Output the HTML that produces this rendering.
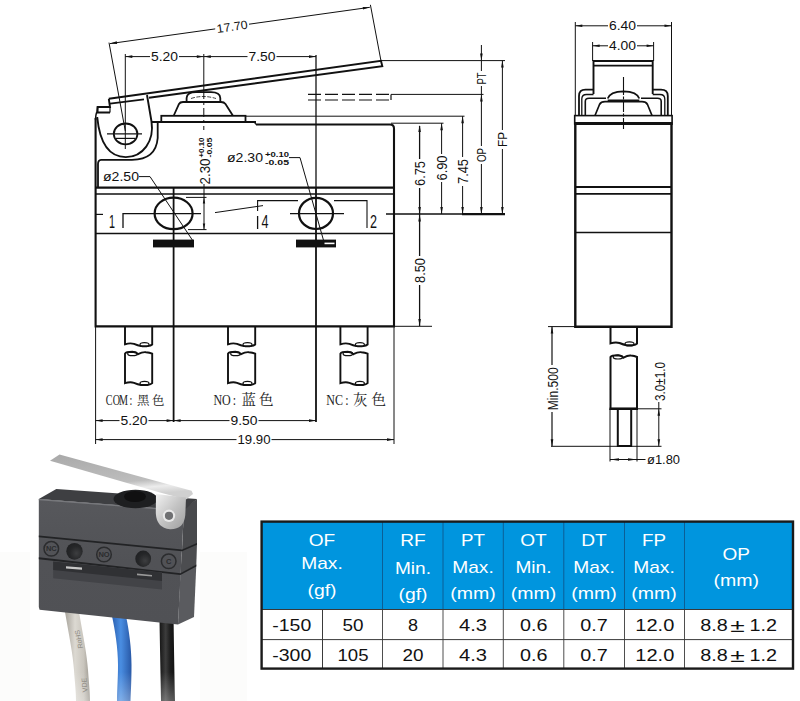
<!DOCTYPE html>
<html lang="zh"><head><meta charset="utf-8"><title>Micro switch dimensions</title>
<style>
html,body{margin:0;padding:0;background:#fff;}
body{width:800px;height:701px;overflow:hidden;font-family:"Liberation Sans","Noto Sans CJK SC",sans-serif;}
svg{display:block}
svg text{font-family:"Liberation Sans","Noto Sans CJK SC",sans-serif;fill:#111;stroke:none}
svg text.cn{font-family:"Liberation Serif","Noto Serif CJK SC",serif;fill:#222}
svg text.th{fill:#fff}
</style></head><body>
<svg width="800" height="701" viewBox="0 0 800 701">
<rect x="0" y="552" width="30" height="149" fill="#fcfcfb"/><rect x="200" y="552" width="47" height="149" fill="#fcfcfb"/>
<g stroke="#111" fill="none" stroke-linecap="butt">
<path d="M95.6,118 V326.4 H394 V128.5 Q394,124.5 390,124.5 H256" stroke-width="2.1"/>
<line x1="95.6" y1="187.6" x2="394" y2="187.6" stroke-width="2.3" />
<line x1="95.6" y1="194" x2="394" y2="194" stroke-width="1.7" />
<line x1="95.6" y1="233.5" x2="394" y2="233.5" stroke-width="1.7" />
<line x1="173.6" y1="187.6" x2="173.6" y2="422" stroke-width="1.8" />
<line x1="316" y1="55" x2="316" y2="187" stroke-width="1.3" />
<line x1="316" y1="187" x2="316" y2="422" stroke-width="1.8" />
<line x1="95.6" y1="326" x2="95.6" y2="444" stroke-width="1" />
<line x1="394" y1="326" x2="394" y2="444" stroke-width="1" />
<path d="M152,122 H256" stroke-width="2"/>
<rect x="161.3" y="115.8" width="84.2" height="6.2" stroke-width="1.8"/>
<path d="M246,121.6 H254 L256,124.5" stroke-width="1.3"/>
<path d="M173.8,115.5 L179,104 Q180,102 183,102 H221 Q224,102 225.5,104 L232.8,115.5" stroke-width="1.8"/>
<path d="M186.6,101.5 V98 Q187,92.2 196,92.2 H211 Q220,92.2 220.3,98 V101.5" stroke-width="1.8"/>
<path d="M191,98.5 Q203,94.5 216,98.5" stroke-width="0.8" stroke-dasharray="4 1.5"/>
<path d="M108.8,98.8 L381,60.9 L382.3,66.2 L149,97.8" stroke-width="1.9"/>
<path d="M110,103.6 L144,99.4" stroke-width="1.8"/>
<path d="M108.8,98.8 L110,107 H97.6 V112.5 H110" stroke-width="1.9"/>
<path d="M110,107 V112.5" stroke-width="1.2"/>
<path d="M97.6,107 L97,112 Q95.6,114 95.6,120" stroke-width="1.5"/>
<path d="M147,95 L151.5,121.5 C154.5,141 143,157 125.8,157.1 C108,157 99.5,141 97.2,117" stroke-width="1.9"/>
<path d="M157.7,123 V138 Q156,159.6 132,159.8 H101 Q98,160 98,164 V187" stroke-width="1.8"/>
<ellipse cx="125.6" cy="133.9" rx="11.8" ry="10.4" stroke-width="1.8"/>
<line x1="107" y1="133.9" x2="142" y2="133.9" stroke-width="1.2" />
<line x1="115.5" y1="138.4" x2="135.5" y2="138.4" stroke-width="1.2" />
<line x1="125.3" y1="54" x2="125.3" y2="149" stroke-width="1" />
<line x1="203.8" y1="54" x2="203.8" y2="90" stroke-width="1" />
<line x1="203.8" y1="90" x2="203.8" y2="130" stroke-width="1" stroke-dasharray="9 3 3 3"/>
<line x1="109" y1="42.6" x2="125.3" y2="131" stroke-width="1" />
<line x1="370.4" y1="4.8" x2="381" y2="61" stroke-width="1" />
<line x1="110" y1="43.6" x2="215.2" y2="28.9" stroke-width="1" />
<line x1="249.0" y1="24.2" x2="369.8" y2="7.3" stroke-width="1" />
<polygon points="110.00,43.60 116.75,41.34 117.11,43.92" fill="#111" stroke="none"/>
<polygon points="369.80,7.30 363.05,9.56 362.69,6.98" fill="#111" stroke="none"/>
<text x="232.1" y="30.8" font-size="12" text-anchor="middle" textLength="31" lengthAdjust="spacingAndGlyphs" transform="rotate(-7.95 232.1 26.5)" stroke="none">17.70</text>
<line x1="125.3" y1="56.6" x2="150.0" y2="56.6" stroke-width="1" />
<line x1="179.0" y1="56.6" x2="203.8" y2="56.6" stroke-width="1" />
<polygon points="125.30,56.60 132.30,55.30 132.30,57.90" fill="#111" stroke="none"/>
<polygon points="203.80,56.60 196.80,57.90 196.80,55.30" fill="#111" stroke="none"/>
<text x="164.5" y="60.9" font-size="12" text-anchor="middle" textLength="27" lengthAdjust="spacingAndGlyphs" >5.20</text>
<line x1="203.8" y1="56.6" x2="247.5" y2="56.6" stroke-width="1" />
<line x1="276.5" y1="56.6" x2="316" y2="56.6" stroke-width="1" />
<polygon points="203.80,56.60 210.80,55.30 210.80,57.90" fill="#111" stroke="none"/>
<polygon points="316.00,56.60 309.00,57.90 309.00,55.30" fill="#111" stroke="none"/>
<text x="262" y="60.9" font-size="12" text-anchor="middle" textLength="27" lengthAdjust="spacingAndGlyphs" >7.50</text>
<ellipse cx="173.6" cy="213.4" rx="19" ry="15.8" stroke-width="2.2"/>
<ellipse cx="316" cy="213.4" rx="17" ry="15.6" stroke-width="2.2"/>
<line x1="147" y1="213.6" x2="201" y2="213.6" stroke-width="1.3" />
<line x1="290" y1="213.6" x2="344" y2="213.6" stroke-width="1.3" />
<rect x="153" y="239.6" width="41" height="7.8" fill="#111" stroke="none"/>
<rect x="296" y="239.6" width="40" height="7.8" fill="#111" stroke="none"/>
<rect x="324.5" y="242.6" width="10" height="1.6" fill="#fff" stroke="none"/>
<path d="M139,176.6 H150 L193,241" stroke-width="1"/>
<path d="M289,157.6 H300 L324,242" stroke-width="1"/>
<line x1="95.6" y1="214.4" x2="103" y2="214.4" stroke-width="1.2" />
<path d="M123,228 V213.6 H147" stroke-width="1.3"/>
<path d="M257.6,211 V200.6 H298" stroke-width="1.1"/>
<line x1="257.6" y1="216" x2="257.6" y2="229" stroke-width="1.3" />
<line x1="215" y1="212.6" x2="263" y2="205.6" stroke-width="1" />
<path d="M334,200.6 H367 V228" stroke-width="1.1"/>
<line x1="204" y1="184" x2="204" y2="229.6" stroke-width="1" />
<line x1="186" y1="197.4" x2="206.5" y2="197.4" stroke-width="1" />
<line x1="188" y1="229.6" x2="206.5" y2="229.6" stroke-width="1" />
<polygon points="204.00,197.40 205.20,203.40 202.80,203.40" fill="#111" stroke="none"/>
<polygon points="204.00,229.60 202.80,223.60 205.20,223.60" fill="#111" stroke="none"/>
<line x1="386" y1="214" x2="505" y2="214" stroke-width="1.6" />
<line x1="462" y1="214.2" x2="505" y2="214.2" stroke-width="2.3" />
<line x1="246" y1="116.2" x2="464.5" y2="116.2" stroke-width="1" />
<line x1="391" y1="123.2" x2="443.5" y2="123.2" stroke-width="1" />
<line x1="381" y1="60.6" x2="505" y2="60.6" stroke-width="1" />
<line x1="391" y1="94.4" x2="483.5" y2="94.4" stroke-width="1" />
<line x1="308" y1="94.4" x2="391" y2="94.4" stroke-width="1.2" stroke-dasharray="13 4"/>
<line x1="308" y1="100" x2="391" y2="100" stroke-width="1.2" stroke-dasharray="13 4"/>
<line x1="391" y1="94.4" x2="391" y2="100" stroke-width="1.2" />
<line x1="419.6" y1="126" x2="419.6" y2="159" stroke-width="1.3" />
<line x1="419.6" y1="188" x2="419.6" y2="214" stroke-width="1.3" />
<polygon points="419.60,125.00 420.90,132.00 418.30,132.00" fill="#111" stroke="none"/>
<polygon points="419.60,214.00 418.30,207.00 420.90,207.00" fill="#111" stroke="none"/>
<line x1="419.6" y1="214" x2="419.6" y2="256" stroke-width="1.3" />
<line x1="419.6" y1="285" x2="419.6" y2="326" stroke-width="1.3" />
<polygon points="419.60,214.50 420.90,221.50 418.30,221.50" fill="#111" stroke="none"/>
<polygon points="419.60,326.00 418.30,319.00 420.90,319.00" fill="#111" stroke="none"/>
<line x1="394" y1="326.3" x2="432" y2="326.3" stroke-width="1" />
<line x1="441.6" y1="123.2" x2="441.6" y2="154" stroke-width="1" />
<line x1="441.6" y1="182" x2="441.6" y2="214" stroke-width="1" />
<polygon points="441.60,123.20 442.90,130.20 440.30,130.20" fill="#111" stroke="none"/>
<polygon points="441.60,214.00 440.30,207.00 442.90,207.00" fill="#111" stroke="none"/>
<line x1="462.6" y1="116.2" x2="462.6" y2="157" stroke-width="1" />
<line x1="462.6" y1="186" x2="462.6" y2="214" stroke-width="1" />
<polygon points="462.60,116.20 463.90,123.20 461.30,123.20" fill="#111" stroke="none"/>
<polygon points="462.60,214.00 461.30,207.00 463.90,207.00" fill="#111" stroke="none"/>
<line x1="481.4" y1="45" x2="481.4" y2="71" stroke-width="1" />
<line x1="481.4" y1="86" x2="481.4" y2="146" stroke-width="1" />
<line x1="481.4" y1="164" x2="481.4" y2="214" stroke-width="1" />
<polygon points="481.40,60.60 480.10,53.60 482.70,53.60" fill="#111" stroke="none"/>
<polygon points="481.40,94.40 482.70,101.40 480.10,101.40" fill="#111" stroke="none"/>
<polygon points="481.40,214.00 480.10,207.00 482.70,207.00" fill="#111" stroke="none"/>
<line x1="502.4" y1="60.6" x2="502.4" y2="130" stroke-width="1" />
<line x1="502.4" y1="149" x2="502.4" y2="214" stroke-width="1" />
<polygon points="502.40,60.60 503.70,67.60 501.10,67.60" fill="#111" stroke="none"/>
<polygon points="502.40,214.00 501.10,207.00 503.70,207.00" fill="#111" stroke="none"/>
<path d="M125,326 V344.3 q5,-1.6 9,-0.4 q4,1.6 7,2.2 h6.5 q3.5,-0.4 4.7,-1.6 V326" stroke-width="1.9"/>
<ellipse cx="144.5" cy="344.7" rx="4.5" ry="2" stroke-width="1.2"/>
<path d="M125,383 V353.6 q1,-1.8 7.5,-1.8 q4,0.4 5.5,2.4 q4.5,-2.4 8,-2 q3.5,0.2 6.2,1.4 V383.2 q-1.2,1.4 -4.7,1.8 h-6.5 q-3,-0.6 -7,-2.2 q-4,-1.2 -9,0.4 Z" stroke-width="1.9"/>
<ellipse cx="132.5" cy="353.7" rx="4.8" ry="2" stroke-width="1.2"/>
<ellipse cx="144.5" cy="383.3" rx="4.5" ry="2" stroke-width="1.2"/>
<path d="M228,326 V344.3 q5,-1.6 9,-0.4 q4,1.6 7,2.2 h6.5 q3.5,-0.4 4.7,-1.6 V326" stroke-width="1.9"/>
<ellipse cx="247.5" cy="344.7" rx="4.5" ry="2" stroke-width="1.2"/>
<path d="M228,383 V353.6 q1,-1.8 7.5,-1.8 q4,0.4 5.5,2.4 q4.5,-2.4 8,-2 q3.5,0.2 6.2,1.4 V383.2 q-1.2,1.4 -4.7,1.8 h-6.5 q-3,-0.6 -7,-2.2 q-4,-1.2 -9,0.4 Z" stroke-width="1.9"/>
<ellipse cx="235.5" cy="353.7" rx="4.8" ry="2" stroke-width="1.2"/>
<ellipse cx="247.5" cy="383.3" rx="4.5" ry="2" stroke-width="1.2"/>
<path d="M340.4,326 V344.3 q5,-1.6 9,-0.4 q4,1.6 7,2.2 h6.5 q3.5,-0.4 4.7,-1.6 V326" stroke-width="1.9"/>
<ellipse cx="359.9" cy="344.7" rx="4.5" ry="2" stroke-width="1.2"/>
<path d="M340.4,383 V353.6 q1,-1.8 7.5,-1.8 q4,0.4 5.5,2.4 q4.5,-2.4 8,-2 q3.5,0.2 6.2,1.4 V383.2 q-1.2,1.4 -4.7,1.8 h-6.5 q-3,-0.6 -7,-2.2 q-4,-1.2 -9,0.4 Z" stroke-width="1.9"/>
<ellipse cx="347.9" cy="353.7" rx="4.8" ry="2" stroke-width="1.2"/>
<ellipse cx="359.9" cy="383.3" rx="4.5" ry="2" stroke-width="1.2"/>
<line x1="95.6" y1="420.6" x2="119.5" y2="420.6" stroke-width="1" />
<line x1="148.5" y1="420.6" x2="173.6" y2="420.6" stroke-width="1" />
<polygon points="95.60,420.60 102.60,419.30 102.60,421.90" fill="#111" stroke="none"/>
<polygon points="173.60,420.60 166.60,421.90 166.60,419.30" fill="#111" stroke="none"/>
<text x="134" y="424.90000000000003" font-size="12" text-anchor="middle" textLength="27" lengthAdjust="spacingAndGlyphs" >5.20</text>
<line x1="173.6" y1="420.6" x2="229.5" y2="420.6" stroke-width="1" />
<line x1="258.5" y1="420.6" x2="316" y2="420.6" stroke-width="1" />
<polygon points="173.60,420.60 180.60,419.30 180.60,421.90" fill="#111" stroke="none"/>
<polygon points="316.00,420.60 309.00,421.90 309.00,419.30" fill="#111" stroke="none"/>
<text x="244" y="424.90000000000003" font-size="12" text-anchor="middle" textLength="27" lengthAdjust="spacingAndGlyphs" >9.50</text>
<line x1="95.6" y1="439.6" x2="236.5" y2="439.6" stroke-width="1" />
<line x1="271.5" y1="439.6" x2="394" y2="439.6" stroke-width="1" />
<polygon points="95.60,439.60 102.60,438.30 102.60,440.90" fill="#111" stroke="none"/>
<polygon points="394.00,439.60 387.00,440.90 387.00,438.30" fill="#111" stroke="none"/>
<text x="254" y="443.90000000000003" font-size="12" text-anchor="middle" textLength="33" lengthAdjust="spacingAndGlyphs" >19.90</text>
</g>
<g>
<text x="121" y="181" font-size="12.5" text-anchor="middle" textLength="36" lengthAdjust="spacingAndGlyphs" >ø2.50</text>
<text x="245" y="162" font-size="12.5" text-anchor="middle" textLength="36" lengthAdjust="spacingAndGlyphs" >ø2.30</text>
<text x="265" y="157.2" font-size="7.2" text-anchor="start" textLength="24" lengthAdjust="spacingAndGlyphs" font-weight="bold">+0.10</text>
<text x="265" y="164.6" font-size="7.2" text-anchor="start" textLength="24" lengthAdjust="spacingAndGlyphs" font-weight="bold">-0.05</text>
<text x="209.8" y="184.5" font-size="14.5" text-anchor="start" textLength="26" lengthAdjust="spacingAndGlyphs" transform="rotate(-90 209.8 184.5)" >2.30</text>
<text x="204" y="157.5" font-size="8" text-anchor="start" textLength="20" lengthAdjust="spacingAndGlyphs" transform="rotate(-90 204 157.5)" font-weight="bold">+0.10</text>
<text x="211.6" y="157.5" font-size="8" text-anchor="start" textLength="20" lengthAdjust="spacingAndGlyphs" transform="rotate(-90 211.6 157.5)" font-weight="bold">-0.05</text>
<text x="112" y="228" font-size="18" text-anchor="middle" textLength="6" lengthAdjust="spacingAndGlyphs" >1</text>
<text x="265" y="228" font-size="18" text-anchor="middle" textLength="7" lengthAdjust="spacingAndGlyphs" >4</text>
<text x="373.5" y="228" font-size="18" text-anchor="middle" textLength="7" lengthAdjust="spacingAndGlyphs" >2</text>
<text x="425" y="173.5" font-size="14" text-anchor="middle" textLength="25" lengthAdjust="spacingAndGlyphs" transform="rotate(-90 425 173.5)" >6.75</text>
<text x="447" y="168" font-size="14" text-anchor="middle" textLength="25" lengthAdjust="spacingAndGlyphs" transform="rotate(-90 447 168)" >6.90</text>
<text x="468" y="171.5" font-size="14" text-anchor="middle" textLength="25" lengthAdjust="spacingAndGlyphs" transform="rotate(-90 468 171.5)" >7.45</text>
<text x="425" y="270.5" font-size="14" text-anchor="middle" textLength="25" lengthAdjust="spacingAndGlyphs" transform="rotate(-90 425 270.5)" >8.50</text>
<text x="486" y="78.5" font-size="12" text-anchor="middle" textLength="12" lengthAdjust="spacingAndGlyphs" transform="rotate(-90 486 78.5)" >PT</text>
<text x="486.4" y="155" font-size="13.5" text-anchor="middle" textLength="14" lengthAdjust="spacingAndGlyphs" transform="rotate(-90 486.4 155)" >OP</text>
<text x="507.4" y="139.5" font-size="13.5" text-anchor="middle" textLength="15" lengthAdjust="spacingAndGlyphs" transform="rotate(-90 507.4 139.5)" >FP</text>
<text class="cn" font-size="14" text-anchor="middle" transform="translate(109 405.3) scale(0.72 1)">C</text>
<text class="cn" font-size="14" text-anchor="middle" transform="translate(116.3 405.3) scale(0.72 1)">O</text>
<text class="cn" font-size="14" text-anchor="middle" transform="translate(123.5 405.3) scale(0.72 1)">M</text>
<text class="cn" font-size="14" text-anchor="middle" transform="translate(131 405.3) scale(0.72 1)">:</text>
<text class="cn" x="137" y="405" font-size="12.5" textLength="27.5" lengthAdjust="spacing">黑色</text>
<text class="cn" font-size="15" text-anchor="middle" transform="translate(217.8 405.3) scale(0.8 1)">N</text>
<text class="cn" font-size="15" text-anchor="middle" transform="translate(226.3 405.3) scale(0.8 1)">O</text>
<text class="cn" font-size="15" text-anchor="middle" transform="translate(234.5 405.3) scale(0.8 1)">:</text>
<text class="cn" x="241.5" y="405" font-size="14.5" textLength="32" lengthAdjust="spacing">蓝色</text>
<text class="cn" font-size="15" text-anchor="middle" transform="translate(330.5 405.3) scale(0.8 1)">N</text>
<text class="cn" font-size="15" text-anchor="middle" transform="translate(339 405.3) scale(0.8 1)">C</text>
<text class="cn" font-size="15" text-anchor="middle" transform="translate(347 405.3) scale(0.8 1)">:</text>
<text class="cn" x="353" y="405" font-size="14.5" textLength="33" lengthAdjust="spacing">灰色</text>
</g>
<g stroke="#111" fill="none">
<path d="M575.3,124 V326.8 H671.5 V124" stroke-width="2.4"/>
<rect x="574.6999999999999" y="115.6" width="97.40000000000005" height="8.2" stroke-width="1.6"/>
<line x1="574.3" y1="123.6" x2="672.5" y2="123.6" stroke-width="3" />
<line x1="575.3" y1="187" x2="671.5" y2="187" stroke-width="1.8" />
<line x1="575.3" y1="193.8" x2="671.5" y2="193.8" stroke-width="1.8" />
<line x1="575.3" y1="232.5" x2="671.5" y2="232.5" stroke-width="1.5" />
<path d="M593.5,94 V61 H652.7 V94" stroke-width="1.9"/>
<line x1="593.5" y1="65.7" x2="652.7" y2="65.7" stroke-width="1.8" />
<path d="M579,115.5 V96 Q579,89.7 585.5,89.7 H593.5 M652.7,89.7 H661 Q667.8,89.7 667.8,96 V115.5" stroke-width="1.8"/>
<path d="M581.8,115.5 V99 Q581.8,94.5 586.5,94.5 H593.5 M652.7,94.5 H660 Q664.8,94.5 664.8,99 V115.5" stroke-width="1.3"/>
<path d="M585.3,115.5 V101.5 Q585.3,98.3 589,98.3 H606 M641,98.3 H657.5 Q661.2,98.3 661.2,101.5 V115.5" stroke-width="1.6"/>
<path d="M607.7,98.5 Q610,91.6 623.5,91.3 Q637,91.6 639.3,98.5" stroke-width="1.7"/>
<path d="M595,115.5 L599.5,104.5 Q601,101.7 605,101.7 H642 Q646,101.7 647.5,104.5 L652,115.5" stroke-width="1.7"/>
<line x1="607.7" y1="100.2" x2="639.3" y2="100.2" stroke-width="1.6" />
<line x1="623.5" y1="77" x2="623.5" y2="129" stroke-width="1.1" stroke-dasharray="18 1.5 3 1.5 11 1.5 3 1.5 12"/>
<line x1="575.3" y1="22" x2="575.3" y2="115" stroke-width="1" />
<line x1="671.5" y1="22" x2="671.5" y2="115" stroke-width="1" />
<line x1="592.6" y1="42" x2="592.6" y2="61" stroke-width="1" />
<line x1="653.6" y1="42" x2="653.6" y2="61" stroke-width="1" />
<line x1="575.3" y1="25.8" x2="608.0" y2="25.8" stroke-width="1" />
<line x1="637.0" y1="25.8" x2="671.5" y2="25.8" stroke-width="1" />
<polygon points="575.30,25.80 582.30,24.50 582.30,27.10" fill="#111" stroke="none"/>
<polygon points="671.50,25.80 664.50,27.10 664.50,24.50" fill="#111" stroke="none"/>
<text x="622.5" y="30.1" font-size="12" text-anchor="middle" textLength="27" lengthAdjust="spacingAndGlyphs" >6.40</text>
<line x1="592.6" y1="45.8" x2="608.0" y2="45.8" stroke-width="1" />
<line x1="637.0" y1="45.8" x2="653.6" y2="45.8" stroke-width="1" />
<polygon points="592.60,45.80 599.60,44.50 599.60,47.10" fill="#111" stroke="none"/>
<polygon points="653.60,45.80 646.60,47.10 646.60,44.50" fill="#111" stroke="none"/>
<text x="622.5" y="50.099999999999994" font-size="12" text-anchor="middle" textLength="27" lengthAdjust="spacingAndGlyphs" >4.00</text>
<path d="M610.5,326.3 V343.4 q5,-1.6 9,-0.4 q4,1.6 7,2.2 h6 q3.5,-0.4 4.5,-1.6 V326.3" stroke-width="2"/>
<ellipse cx="629.5" cy="343.9" rx="4.5" ry="2" stroke-width="1.2"/>
<path d="M610.5,408.8 V357 q1,-1.8 7.5,-1.8 q4,0.4 5.5,2.4 q4.5,-2.4 7.5,-2 q3.5,0.2 6,1.4 V408.8 Z" stroke-width="2"/>
<ellipse cx="618" cy="357" rx="4.8" ry="2" stroke-width="1.2"/>
<line x1="609.5" y1="408.8" x2="638" y2="408.8" stroke-width="2.4" />
<path d="M617.8,409 V446 H631.2 V409" stroke-width="2"/>
<line x1="548" y1="326.6" x2="575.3" y2="326.6" stroke-width="1" />
<line x1="552" y1="326.6" x2="552" y2="365" stroke-width="1.2" />
<line x1="552" y1="412" x2="552" y2="446.3" stroke-width="1.2" />
<polygon points="552.00,326.60 553.30,333.60 550.70,333.60" fill="#111" stroke="none"/>
<polygon points="552.00,446.30 550.70,439.30 553.30,439.30" fill="#111" stroke="none"/>
<line x1="551" y1="446.3" x2="661.5" y2="446.3" stroke-width="1" />
<line x1="637" y1="408.8" x2="661.5" y2="408.8" stroke-width="1" />
<line x1="658.8" y1="402" x2="658.8" y2="446.3" stroke-width="1" />
<polygon points="658.80,408.80 660.10,415.80 657.50,415.80" fill="#111" stroke="none"/>
<polygon points="658.80,446.30 657.50,439.30 660.10,439.30" fill="#111" stroke="none"/>
<line x1="610" y1="409" x2="610" y2="461.5" stroke-width="1" />
<line x1="637" y1="409" x2="637" y2="461.5" stroke-width="1" />
<line x1="610" y1="459.5" x2="645.5" y2="459.5" stroke-width="1" />
<polygon points="610.00,459.50 619.00,458.20 619.00,460.80" fill="#111" stroke="none"/>
<polygon points="637.00,459.50 628.00,460.80 628.00,458.20" fill="#111" stroke="none"/>
</g>
<text x="557.6" y="388.8" font-size="14.5" text-anchor="middle" textLength="43" lengthAdjust="spacingAndGlyphs" transform="rotate(-90 557.6 388.8)" >Min.500</text>
<text x="665.4" y="381.5" font-size="14.5" text-anchor="middle" textLength="39" lengthAdjust="spacingAndGlyphs" transform="rotate(-90 665.4 381.5)" >3.0±1.0</text>
<text x="663.5" y="464.3" font-size="12.5" text-anchor="middle" textLength="33" lengthAdjust="spacingAndGlyphs" >ø1.80</text>
<defs>
<linearGradient id="lev" x1="0" y1="0" x2="0.28" y2="1"><stop offset="0" stop-color="#a9a9a9"/><stop offset="0.7" stop-color="#bdbdbd"/><stop offset="0.85" stop-color="#ececec"/><stop offset="1" stop-color="#d0d0d0"/></linearGradient>
<linearGradient id="bodyf" x1="0" y1="0" x2="0" y2="1"><stop offset="0" stop-color="#57585c"/><stop offset="0.5" stop-color="#515256"/><stop offset="1" stop-color="#505155"/></linearGradient>
<linearGradient id="wg" x1="0" y1="0" x2="1" y2="0"><stop offset="0" stop-color="#a8a49c"/><stop offset="0.4" stop-color="#dcd9d2"/><stop offset="0.75" stop-color="#c9c5bd"/><stop offset="1" stop-color="#9c9890"/></linearGradient>
<linearGradient id="wb" x1="0" y1="0" x2="1" y2="0"><stop offset="0" stop-color="#2a5fb0"/><stop offset="0.45" stop-color="#4a8ee2"/><stop offset="1" stop-color="#2858a6"/></linearGradient>
<linearGradient id="wk" x1="0" y1="0" x2="1" y2="0"><stop offset="0" stop-color="#161616"/><stop offset="0.4" stop-color="#3c3c3c"/><stop offset="0.7" stop-color="#1c1c1c"/><stop offset="1" stop-color="#101010"/></linearGradient>
<linearGradient id="fade" x1="0" y1="0" x2="0" y2="1"><stop offset="0" stop-color="#fff" stop-opacity="0"/><stop offset="1" stop-color="#fff" stop-opacity="0.3"/></linearGradient>
<radialGradient id="hole" cx="0.62" cy="0.62" r="0.7"><stop offset="0" stop-color="#3d3e40"/><stop offset="0.6" stop-color="#252628"/><stop offset="1" stop-color="#1f2022"/></radialGradient>
<linearGradient id="brk" x1="0" y1="0" x2="1" y2="1"><stop offset="0" stop-color="#f2f2f2"/><stop offset="0.5" stop-color="#c4c4c4"/><stop offset="1" stop-color="#9e9e9e"/></linearGradient>
</defs>
<g stroke="none">
<path d="M65,612 C69,635 73,655 74,670 C75,684 76,692 76,701 H90 C90,692 89,684 88,670 C87,655 83,635 79,612 Z" fill="url(#wg)"/>
<path d="M112,616 C115,630 118,648 118,665 C118,680 117,690 117,701 H130.5 C131,690 131.5,680 131.5,665 C131.5,648 129,630 126,616 Z" fill="url(#wb)"/>
<path d="M159.5,620 C160,650 160.5,675 161,701 H175 C174.5,675 174,650 173.6,620 Z" fill="url(#wk)"/>
<rect x="60" y="672" width="120" height="29" fill="url(#fade)"/>
<text x="0" y="0" font-size="7" transform="translate(83 648) rotate(-101)" style="fill:#8d8981">RoHS</text>
<text x="0" y="0" font-size="7" transform="translate(87.5 692) rotate(-95)" style="fill:#8d8981">VDE</text>
<polygon points="184,509 197,499 197,544 182,550" fill="#48494c"/>
<polygon points="182,550 197,544 196.3,565 180.4,574" fill="#4c4d50"/>
<polygon points="180.4,574 196.3,565 194,617 178,624.6" fill="#5a5b5f"/>
<polygon points="38.8,499 56.3,488.9 197,499 184,510.4" fill="#3e3f42"/>
<polygon points="38.8,499 184,510 178,624.6 39.6,609.8 38.8,607" fill="url(#bodyf)"/>
<polygon points="38.8,499 184,510 184,511.3 38.8,500.3" fill="#77787c"/>
<polygon points="38.8,535.4 182,549.4 197,543 197,544.8 182,551.2 38.8,537.2" fill="#222325"/>
<polygon points="38.8,557.3 180.4,573.2 196.3,564.6 196.3,566.4 180.4,575 38.8,559.2" fill="#222325"/>
<polygon points="53.2,561.4 162,572.5 162,589.5 53.2,578.3" fill="#424347"/>
<polygon points="53.2,561.4 162,572.5 162,581 53.2,570" fill="#303134"/>
<polygon points="66,566.2 82,567.6 82,569.8 66,568.4" fill="#c8c8c8"/>
<polygon points="137,573.6 152,575 152,576.6 137,575.2" fill="#9a9a9a"/>
<ellipse cx="74.5" cy="551.3" rx="8.2" ry="8.4" fill="url(#hole)"/>
<ellipse cx="143.2" cy="558.8" rx="7.9" ry="8.2" fill="url(#hole)"/>
<ellipse cx="51.3" cy="548.8" rx="7.3" ry="7.3" fill="none" stroke="#2b2c2e" stroke-width="1.5"/>
<text x="51.3" y="551.4" font-size="7.5" font-weight="bold" text-anchor="middle" style="fill:#2b2c2e">NC</text>
<ellipse cx="104" cy="554.5" rx="7.3" ry="7.3" fill="none" stroke="#2b2c2e" stroke-width="1.5"/>
<text x="104" y="557.1" font-size="7.5" font-weight="bold" text-anchor="middle" style="fill:#2b2c2e">NO</text>
<ellipse cx="168.7" cy="561.3" rx="7.3" ry="7.3" fill="none" stroke="#2b2c2e" stroke-width="1.5"/>
<text x="168.7" y="563.9" font-size="7.5" font-weight="bold" text-anchor="middle" style="fill:#2b2c2e">C</text>
<ellipse cx="135.5" cy="499" rx="22" ry="9.2" fill="#1e1f21"/>
<ellipse cx="135" cy="496.5" rx="11" ry="5.5" fill="#101011"/>
<polygon points="50,460.7 59.5,454.4 191.6,490.7 193,494 186,499.5 160,492.5" fill="url(#lev)"/>
<path d="M156,494 L186,497.5 L185.3,515 Q184,529.5 170,529.2 Q156.5,528 155.8,513 Z" fill="url(#brk)"/>
<ellipse cx="169" cy="515.8" rx="6.2" ry="6.2" fill="#e9e9e9"/>
<ellipse cx="169" cy="515.8" rx="4.1" ry="4.1" fill="#6f7072"/>
</g>
<g>
<rect x="261.5" y="521.5" width="531.5" height="147" fill="#fff" stroke="none"/>
<rect x="261.5" y="521.5" width="531.5" height="88" fill="#0095de" stroke="none"/>
<g stroke="#3a3a3a" stroke-width="1" fill="none">
<line x1="382.5" y1="521.5" x2="382.5" y2="609.5" stroke-width="1" stroke="#0b5f96"/>
<line x1="382.5" y1="609.5" x2="382.5" y2="668.5" stroke-width="0.9" />
<line x1="443" y1="521.5" x2="443" y2="609.5" stroke-width="1" stroke="#0b5f96"/>
<line x1="443" y1="609.5" x2="443" y2="668.5" stroke-width="0.9" />
<line x1="503.3" y1="521.5" x2="503.3" y2="609.5" stroke-width="1" stroke="#0b5f96"/>
<line x1="503.3" y1="609.5" x2="503.3" y2="668.5" stroke-width="0.9" />
<line x1="563.8" y1="521.5" x2="563.8" y2="609.5" stroke-width="1" stroke="#0b5f96"/>
<line x1="563.8" y1="609.5" x2="563.8" y2="668.5" stroke-width="0.9" />
<line x1="624.5" y1="521.5" x2="624.5" y2="609.5" stroke-width="1" stroke="#0b5f96"/>
<line x1="624.5" y1="609.5" x2="624.5" y2="668.5" stroke-width="0.9" />
<line x1="684.5" y1="521.5" x2="684.5" y2="609.5" stroke-width="1" stroke="#0b5f96"/>
<line x1="684.5" y1="609.5" x2="684.5" y2="668.5" stroke-width="0.9" />
<line x1="322.5" y1="609.5" x2="322.5" y2="668.5" stroke-width="1" />
<line x1="261.5" y1="609.5" x2="793" y2="609.5" stroke-width="1" />
<line x1="261.5" y1="639.6" x2="793" y2="639.6" stroke-width="1" />
<rect x="261.6" y="521.6" width="531.4" height="147" stroke-width="2.4" stroke="#1a1a1a"/>
</g>
<text class="th" x="322" y="546.2" font-size="16.4" text-anchor="middle" textLength="26.5" lengthAdjust="spacingAndGlyphs">OF</text>
<text class="th" x="322" y="568.8" font-size="16.4" text-anchor="middle" textLength="41.5" lengthAdjust="spacingAndGlyphs">Max.</text>
<text class="th" x="322" y="596.2" font-size="16.4" text-anchor="middle" textLength="29" lengthAdjust="spacingAndGlyphs">(gf)</text>
<text class="th" x="413" y="545.6" font-size="16.4" text-anchor="middle" textLength="25.5" lengthAdjust="spacingAndGlyphs">RF</text>
<text class="th" x="413" y="573.8" font-size="16.4" text-anchor="middle" textLength="36" lengthAdjust="spacingAndGlyphs">Min.</text>
<text class="th" x="413" y="599.6" font-size="16.4" text-anchor="middle" textLength="29" lengthAdjust="spacingAndGlyphs">(gf)</text>
<text class="th" x="473" y="545.6" font-size="16.4" text-anchor="middle" textLength="24" lengthAdjust="spacingAndGlyphs">PT</text>
<text class="th" x="473" y="572.6" font-size="16.4" text-anchor="middle" textLength="41.5" lengthAdjust="spacingAndGlyphs">Max.</text>
<text class="th" x="473" y="598.8" font-size="16.4" text-anchor="middle" textLength="45.5" lengthAdjust="spacingAndGlyphs">(mm)</text>
<text class="th" x="533.5" y="545.6" font-size="16.4" text-anchor="middle" textLength="26.5" lengthAdjust="spacingAndGlyphs">OT</text>
<text class="th" x="533.5" y="572.6" font-size="16.4" text-anchor="middle" textLength="36" lengthAdjust="spacingAndGlyphs">Min.</text>
<text class="th" x="533.5" y="598.8" font-size="16.4" text-anchor="middle" textLength="45.5" lengthAdjust="spacingAndGlyphs">(mm)</text>
<text class="th" x="594" y="545.6" font-size="16.4" text-anchor="middle" textLength="25.5" lengthAdjust="spacingAndGlyphs">DT</text>
<text class="th" x="594" y="572.6" font-size="16.4" text-anchor="middle" textLength="41.5" lengthAdjust="spacingAndGlyphs">Max.</text>
<text class="th" x="594" y="598.8" font-size="16.4" text-anchor="middle" textLength="45.5" lengthAdjust="spacingAndGlyphs">(mm)</text>
<text class="th" x="654" y="545.6" font-size="16.4" text-anchor="middle" textLength="24" lengthAdjust="spacingAndGlyphs">FP</text>
<text class="th" x="654" y="572.6" font-size="16.4" text-anchor="middle" textLength="41.5" lengthAdjust="spacingAndGlyphs">Max.</text>
<text class="th" x="654" y="598.8" font-size="16.4" text-anchor="middle" textLength="45.5" lengthAdjust="spacingAndGlyphs">(mm)</text>
<text class="th" x="736.3" y="559.5" font-size="16.4" text-anchor="middle" textLength="27.5" lengthAdjust="spacingAndGlyphs">OP</text>
<text class="th" x="736.3" y="586.3" font-size="16.4" text-anchor="middle" textLength="45.5" lengthAdjust="spacingAndGlyphs">(mm)</text>
<text x="291.8" y="631" font-size="16.7" text-anchor="middle" textLength="39" lengthAdjust="spacingAndGlyphs" fill="#222">-150</text>
<text x="353" y="631" font-size="16.7" text-anchor="middle" textLength="21" lengthAdjust="spacingAndGlyphs" fill="#222">50</text>
<text x="413" y="631" font-size="16.7" text-anchor="middle" textLength="10" lengthAdjust="spacingAndGlyphs" fill="#222">8</text>
<text x="473" y="631" font-size="16.7" text-anchor="middle" textLength="28" lengthAdjust="spacingAndGlyphs" fill="#222">4.3</text>
<text x="533.8" y="631" font-size="16.7" text-anchor="middle" textLength="27.5" lengthAdjust="spacingAndGlyphs" fill="#222">0.6</text>
<text x="594" y="631" font-size="16.7" text-anchor="middle" textLength="27.5" lengthAdjust="spacingAndGlyphs" fill="#222">0.7</text>
<text x="654.8" y="631" font-size="16.7" text-anchor="middle" textLength="39" lengthAdjust="spacingAndGlyphs" fill="#222">12.0</text>
<text x="714" y="631" font-size="16.7" text-anchor="middle" textLength="27.5" lengthAdjust="spacingAndGlyphs" fill="#222">8.8</text>
<text x="737.6" y="631.6" font-size="19" text-anchor="middle" textLength="14.5" lengthAdjust="spacingAndGlyphs" fill="#222">±</text>
<text x="763.3" y="631" font-size="16.7" text-anchor="middle" textLength="27.5" lengthAdjust="spacingAndGlyphs" fill="#222">1.2</text>
<text x="291.8" y="661" font-size="16.7" text-anchor="middle" textLength="39" lengthAdjust="spacingAndGlyphs" fill="#222">-300</text>
<text x="353" y="661" font-size="16.7" text-anchor="middle" textLength="31" lengthAdjust="spacingAndGlyphs" fill="#222">105</text>
<text x="413" y="661" font-size="16.7" text-anchor="middle" textLength="21" lengthAdjust="spacingAndGlyphs" fill="#222">20</text>
<text x="473" y="661" font-size="16.7" text-anchor="middle" textLength="28" lengthAdjust="spacingAndGlyphs" fill="#222">4.3</text>
<text x="533.8" y="661" font-size="16.7" text-anchor="middle" textLength="27.5" lengthAdjust="spacingAndGlyphs" fill="#222">0.6</text>
<text x="594" y="661" font-size="16.7" text-anchor="middle" textLength="27.5" lengthAdjust="spacingAndGlyphs" fill="#222">0.7</text>
<text x="654.8" y="661" font-size="16.7" text-anchor="middle" textLength="39" lengthAdjust="spacingAndGlyphs" fill="#222">12.0</text>
<text x="714" y="661" font-size="16.7" text-anchor="middle" textLength="27.5" lengthAdjust="spacingAndGlyphs" fill="#222">8.8</text>
<text x="737.6" y="661.6" font-size="19" text-anchor="middle" textLength="14.5" lengthAdjust="spacingAndGlyphs" fill="#222">±</text>
<text x="763.3" y="661" font-size="16.7" text-anchor="middle" textLength="27.5" lengthAdjust="spacingAndGlyphs" fill="#222">1.2</text>
</g>
</svg>
</body></html>
